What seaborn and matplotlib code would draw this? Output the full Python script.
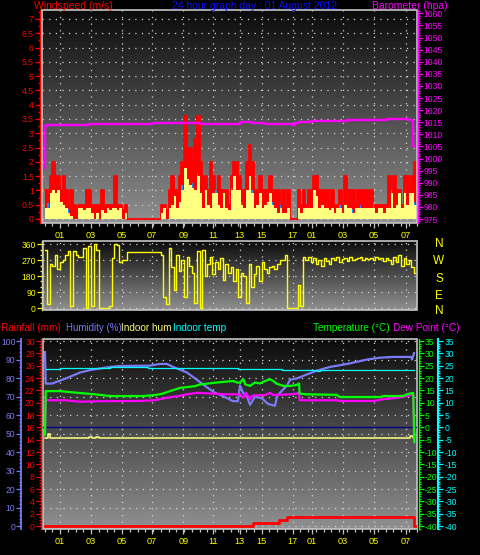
import numpy as np
import pandas as pd
import matplotlib
matplotlib.use("Agg")
import matplotlib.pyplot as plt
import seaborn as sns
from matplotlib.colors import LinearSegmentedColormap
from matplotlib.patches import Rectangle
from matplotlib.ticker import MultipleLocator, FixedLocator, FuncFormatter

# ---------------- data ----------------
x_tick_pos = [1.0, 3.0, 5.0, 6.95, 8.95, 10.9, 12.6, 14.0, 16.0, 17.25, 19.25, 21.25, 23.3]
x_tick_lab = ["01", "03", "05", "07", "09", "11", "13", "15", "17", "01", "03", "05", "07"]

# wind, one sample every 10 minutes (m/s)
wind_gust = [1.0, 1.0, 1.5, 2.0, 1.5, 1.5, 1.0, 1.5, 1.0, 0.5,
             1.0, 0.5, 0.3, 0.5, 0.5, 0.5, 1.0, 1.0, 0.5, 0.5,
             0.5, 0.5, 1.0, 0.5, 0.5, 0.5, 0.5, 1.5, 0.5, 0.5,
             0.3, 0.5, 0.0, 0.0, 0.0, 0.0, 0.0, 0.0, 0.0, 0.0,
             0.0, 0.0, 0.0, 0.0, 0.0, 0.5, 0.5, 0.3, 1.0, 1.5,
             1.0, 1.0, 1.5, 2.0, 3.6, 2.5, 2.5, 2.0, 2.8, 3.6,
             2.0, 1.5, 1.5, 1.0, 2.0, 1.5, 1.0, 1.5, 1.0, 1.0,
             1.0, 0.5, 1.5, 2.0, 2.0, 1.5, 1.0, 1.0, 2.0, 2.6,
             2.0, 1.0, 1.0, 1.5, 1.0, 1.0, 1.0, 1.5, 1.0, 1.0,
             1.0, 0.5, 1.0, 0.5, 1.0, 0.0, 0.0, 0.0, 1.0, 0.5,
             1.0, 0.5, 1.0, 1.0, 1.5, 1.5, 1.0, 1.0, 1.0, 1.0,
             0.5, 1.0, 0.5, 0.5, 1.0, 0.5, 1.5, 1.0, 1.0, 1.0,
             0.5, 1.0, 1.0, 1.0, 1.0, 1.0, 1.0, 0.5, 0.5, 0.5,
             0.5, 0.5, 0.5, 1.5, 1.0, 1.5, 1.0, 1.0, 0.5, 1.5,
             1.5, 1.0, 1.5, 2.0]
wind_avg = [0.4, 0.4, 0.9, 1.0, 0.9, 1.0, 0.6, 0.5, 0.4, 0.2,
            0.1, 0.0, 0.0, 0.4, 0.4, 0.3, 0.4, 0.4, 0.2, 0.0,
            0.2, 0.0, 0.3, 0.2, 0.4, 0.3, 0.4, 0.4, 0.3, 0.4,
            0.0, 0.2, 0.0, 0.0, 0.0, 0.0, 0.0, 0.0, 0.0, 0.0,
            0.0, 0.0, 0.0, 0.0, 0.0, 0.2, 0.4, 0.0, 0.4, 0.5,
            0.8, 0.4, 0.6, 1.0, 1.8, 1.4, 1.2, 1.1, 1.0, 1.5,
            0.9, 0.4, 1.0, 0.5, 0.4, 0.9, 0.9, 0.5, 0.4, 0.9,
            0.4, 0.3, 1.0, 1.5, 1.0, 1.0, 0.5, 0.4, 1.0, 1.5,
            0.9, 0.4, 0.5, 0.9, 0.4, 0.5, 0.6, 0.9, 0.5, 0.4,
            0.2, 0.4, 0.2, 0.2, 0.4, 0.0, 0.0, 0.0, 0.4, 0.2,
            0.4, 0.4, 0.4, 0.4, 1.0, 0.8, 0.4, 0.5, 0.4, 0.4,
            0.3, 0.4, 0.2, 0.4, 0.4, 0.2, 0.5, 0.4, 0.4, 0.2,
            0.4, 0.4, 0.4, 0.4, 0.4, 0.4, 0.4, 0.4, 0.2, 0.4,
            0.4, 0.2, 0.4, 0.4, 0.9, 0.4, 0.5, 0.9, 0.4, 0.9,
            0.5, 0.9, 0.9, 0.5]
wind_blue_idx = [1, 9, 53, 57, 59, 66, 72, 76, 80, 88, 91, 114, 119, 122, 127, 134, 143]
wind_blue_val = [0.55, 0.35, 1.2, 1.25, 1.6, 1.0, 1.1, 0.6, 1.0, 0.6, 0.5, 0.5, 0.35, 0.5, 0.55, 1.0, 0.6]

wind_dir = [330, 20, 250, 240, 300, 220, 260, 270, 300, 320,
            10, 320, 300, 290, 290, 340, 0, 350, 10, 360,
            330, 0, 0, 0, 0, 10, 280, 360, 355, 260,
            270, 270, 318, 318, 318, 318, 318, 318, 318, 318,
            318, 318, 318, 318, 318, 300, 60, 20, 340, 230,
            100, 300, 210, 270, 60, 290, 240, 200, 30, 320,
            0, 330, 180, 250, 290, 190, 260, 220, 280, 160,
            250, 200, 230, 150, 220, 60, 200, 180, 30, 250,
            120, 190, 240, 150, 260, 220, 200, 230, 240, 220,
            250, 270, 270, 300, 0, 0, 0, 0, 130, 10,
            290, 270, 290, 260, 280, 250, 270, 240, 285, 265,
            250, 280, 270, 290, 260, 275, 280, 265, 290, 270,
            275, 280, 290, 270, 285, 275, 280, 270, 290, 275,
            280, 265, 285, 270, 250, 290, 260, 300, 240, 280,
            250, 270, 230, 200]

baro_h = [0.0, 0.03, 0.14, 2.9, 7.0, 10.0, 12.6, 13.15, 13.4, 14.2, 15.95, 16.16,
          16.4, 17.2, 19.5, 19.7, 22.1, 23.47, 23.8, 23.86]
baro_v = [996, 1013.5, 1014.0, 1014.2, 1014.5, 1014.2, 1015.0, 1015.3, 1014.7, 1014.4,
          1014.0, 1014.7, 1015.3, 1015.7, 1016.1, 1016.0, 1016.4, 1016.0, 1005, 1005]

hum_h = [0.03, 0.08, 0.48, 1.45, 2.29, 2.94, 4.23, 4.87, 6.8, 7.45,
         7.9, 8.29, 9.19, 9.84, 10.48, 11.0, 11.32, 12.16, 12.48, 12.61,
         12.81, 13.06, 13.26, 13.58, 14.03, 14.42, 14.87, 15.0, 15.19, 15.65,
         15.84, 16.35, 16.94, 17.58, 18.42, 19.52, 20.81, 21.65, 22.48, 23.65,
         23.71, 23.84]
hum_v = [94, 77, 77, 80, 83, 84.3, 86, 86.5, 86.7, 87.6,
         87.6, 86, 83, 79, 75, 72, 71, 67.5, 67.5, 76,
         72, 70, 65.5, 70, 69, 66, 65, 70, 72, 76,
         79, 80, 82, 84, 86, 87.6, 90, 91, 91.4, 91.4,
         90, 93.5]

temp_h = [0.03, 0.08, 1.0, 1.65, 3.26, 4.23, 6.35, 7.13, 7.58, 8.1,
          8.74, 9.7, 10.03, 11.0, 11.65, 12.16, 12.48, 12.61, 12.83, 12.94,
          13.26, 13.58, 13.9, 14.23, 14.55, 14.76, 14.98, 15.41, 15.84, 16.27,
          16.42, 16.46, 16.9, 18.85, 19.06, 21.65, 21.86, 23.15, 23.37, 23.79,
          23.86]
temp_v = [-3, 14.7, 14.7, 14.3, 13.4, 12.7, 12.7, 13.1, 13.6, 14.7,
          16.0, 16.7, 17.4, 18.1, 18.5, 18.8, 18.1, 18.2, 19.5, 17.5,
          16.8, 18.2, 17.8, 18.8, 19.5, 18.8, 17.7, 16.8, 16.8, 17.2,
          17.8, 13.7, 13.4, 13.2, 12.3, 12.3, 12.7, 12.7, 13.4, 14.0,
          -6]

dew_h = [0.03, 0.08, 1.32, 2.29, 3.58, 6.16, 7.13, 7.9, 8.74, 9.19,
         9.84, 10.87, 11.65, 12.48, 12.61, 12.83, 13.0, 13.26, 13.37, 13.58,
         14.23, 14.55, 14.76, 15.84, 16.27, 16.42, 16.46, 18.85, 19.06, 21.22,
         21.86, 22.72, 23.37, 23.79, 23.86]
dew_v = [-2.5, 11.0, 11.0, 10.4, 10.6, 10.7, 11.0, 12.0, 12.8, 13.4,
         14.0, 13.7, 13.4, 13.4, 13.4, 12.0, 14.0, 11.4, 12.7, 13.0,
         13.1, 14.0, 13.1, 13.4, 13.7, 14.2, 11.0, 11.0, 10.7, 10.7,
         11.4, 12.0, 12.7, 13.4, -6]

intemp_h = [0.08, 1.0, 4.23, 6.7, 12.5, 15.35, 17.6, 17.75, 23.84]
intemp_v = [23.6, 24.0, 24.3, 24.0, 23.6, 23.2, 22.8, 23.2, 23.2]

inhum_h = [0.05, 0.2, 0.35, 2.9, 3.05, 3.3, 3.5, 23.55, 23.75, 23.86]
inhum_v = [47.6, 49.5, 47.6, 48.3, 47.6, 48.3, 47.6, 48.8, 47.6, 47.6]

rain_h = [0.05, 13.47, 15.13, 15.62, 23.86, 23.9]
rain_v = [0.0, 0.5, 1.0, 1.5, 0.0, 0.0]

compass = ["N", "W", "S", "E", "N"]

# ---------------- style ----------------
plt.rcParams['font.family'] = ['Liberation Sans', 'DejaVu Sans']
W, H = 480, 555
fig = plt.figure(figsize=(W / 100, H / 100), dpi=100, facecolor='black')

RED, YEL, PALE, MAG = '#ff0000', '#ffff00', '#ffff80', '#ff00ff'
LAV, CYAN, GREEN, BLUE = '#7b7bf5', '#00ffff', '#00ff00', '#0a0aff'
FRAME = '#c4c4c4'
TS = 6.2
bg = LinearSegmentedColormap.from_list('bg', ['#909090', '#0b0b0b'])


def rect(l, t, r, b):
    return [l / W, 1 - b / H, (r - l) / W, (b - t) / H]


def xl(lpx, rpx):
    return ((lpx - 44.5) / 15.5, (rpx - 44.5) / 15.5)


def base(ax, labels=True):
    ax.set_facecolor('black')
    ax.imshow(np.linspace(0, 1, 256).reshape(-1, 1), extent=[0, 1, 0, 1],
              transform=ax.transAxes, cmap=bg, aspect='auto', origin='lower',
              zorder=0, interpolation='bilinear')
    for s in ax.spines.values():
        s.set_visible(False)
    ax.add_patch(Rectangle((0, 0), 1, 1, transform=ax.transAxes, fill=False,
                           ec=FRAME, lw=1.2, clip_on=False, zorder=8))
    ax.xaxis.set_major_locator(FixedLocator(x_tick_pos))
    ax.xaxis.set_minor_locator(MultipleLocator(0.5))
    ax.set_xticklabels(x_tick_lab if labels else [""] * len(x_tick_pos))
    ax.tick_params(axis='x', which='major', direction='out', length=3.3 if labels else 0,
                   width=0.9, color=FRAME, labelcolor=YEL, labelsize=TS + 0.4, pad=2.4,
                   labelbottom=labels)
    ax.tick_params(axis='x', which='minor', direction='out', length=1.8 if labels else 0,
                   width=0.9, color=FRAME)
    ax.grid(True, which='major', color='#d4d4d4', linestyle=(0, (1, 4.3)), linewidth=0.9)
    ax.set_xlabel('')
    ax.set_ylabel('')


def yaxis_style(ax, side, color, outward, major, minor, lw=1.0, fmt=None):
    for s in ax.spines.values():
        s.set_visible(False)
    sp = ax.spines[side]
    sp.set_visible(True)
    sp.set_color(color)
    sp.set_linewidth(lw)
    sp.set_position(('outward', outward))
    if side == 'left':
        ax.yaxis.tick_left()
    else:
        ax.yaxis.tick_right()
    if isinstance(major, list):
        ax.yaxis.set_major_locator(FixedLocator(major))
    else:
        ax.yaxis.set_major_locator(MultipleLocator(major))
    ax.yaxis.set_minor_locator(MultipleLocator(minor))
    ax.yaxis.set_major_formatter(FuncFormatter(fmt or (lambda v, p: f"{v:g}")))
    ax.tick_params(axis='y', which='major', direction='out', length=3.3, width=0.9,
                   colors=color, labelsize=TS, pad=1.0)
    ax.tick_params(axis='y', which='minor', direction='out', length=1.6, width=0.9,
                   colors=color)
    ax.set_ylabel('')


# ---------------- panel 1: wind speed + barometer ----------------
ax1 = fig.add_axes(rect(42, 10, 417, 223))
base(ax1, labels=True)
t_w = np.arange(len(wind_gust)) / 6.0
t_edge = np.append(t_w, 24.0)
ax1.fill_between(t_edge, np.append(wind_gust, wind_gust[-1]), step='post', color=RED, lw=0, zorder=2)
sns.lineplot(x=t_edge, y=np.append(wind_gust, wind_gust[-1]), ax=ax1, color=RED, lw=1.3,
             drawstyle='steps-post', estimator=None, sort=False, zorder=2.1)
ax1.bar(np.array(wind_blue_idx) / 6.0, wind_blue_val, width=1 / 10, align='edge',
        color='#1e90ff', lw=0, zorder=2.5)
ax1.fill_between(t_edge, np.append(wind_avg, wind_avg[-1]), step='post', color=PALE, lw=0, zorder=3)
ax1.set_xlim(*xl(42, 417))
ax1.set_ylim(-0.14, 7.315)
yaxis_style(ax1, 'left', RED, 1.6, 0.5, 0.25)

ax1b = ax1.twinx()
sns.lineplot(x=baro_h, y=baro_v, ax=ax1b, color=MAG, lw=1.7, drawstyle='steps-post',
             estimator=None, sort=False)
ax1b.set_xlim(*xl(42, 417))
ax1b.set_ylim(973.35, 1061.4)
yaxis_style(ax1b, 'right', MAG, 0.6, 5, 1)

# ---------------- panel 2: wind direction ----------------
ax2 = fig.add_axes(rect(43, 241, 417, 310))
base(ax2, labels=False)
sns.lineplot(x=t_edge, y=np.append(wind_dir, wind_dir[-1]), ax=ax2, color=YEL, lw=1.0,
             drawstyle='steps-post', estimator=None, sort=False, zorder=3)
ax2.set_xlim(*xl(43, 417))
ax2.set_ylim(-11.3, 378.7)
yaxis_style(ax2, 'left', YEL, 0.8, [0, 90, 180, 270, 360], 30)
for lab, ypx in zip(compass, [244.5, 261, 278.5, 296, 311]):
    fig.text(439 / W, 1 - ypx / H, lab, color=YEL, fontsize=8.5, ha='center', va='center')

# ---------------- panel 3: temperatures, humidity, rain ----------------
ax3 = fig.add_axes(rect(43, 339, 417, 529))
base(ax3, labels=True)
XL3 = xl(43, 417)

ax3r = ax3.twinx()  # rainfall
ax3t = ax3.twinx()  # temperature / dew point
ax3c = ax3.twinx()  # indoor temperature

sns.lineplot(x=inhum_h, y=inhum_v, ax=ax3, color=PALE, lw=1.1, drawstyle='steps-post',
             estimator=None, sort=False, zorder=3)
sns.lineplot(x=hum_h, y=hum_v, ax=ax3, color=LAV, lw=1.6, estimator=None, sort=False, zorder=4)
ax3.set_ylim(-1.6, 101.1)
ax3.set_xlim(*XL3)
yaxis_style(ax3, 'left', LAV, 15.5, 10, 2, lw=1.3)

sns.lineplot(x=rain_h, y=rain_v, ax=ax3r, color=RED, lw=2.0, drawstyle='steps-post',
             estimator=None, sort=False)
ax3r.set_ylim(-0.48, 30.33)
ax3r.set_xlim(*XL3)
yaxis_style(ax3r, 'left', RED, 1.6, 2, 0.5)

ax3t.axhline(0, color='#000080', lw=1.0)
sns.lineplot(x=dew_h, y=dew_v, ax=ax3t, color=MAG, lw=1.6, estimator=None, sort=False)
sns.lineplot(x=temp_h, y=temp_v, ax=ax3t, color=GREEN, lw=1.6, estimator=None, sort=False)
ax3t.set_ylim(-41.2, 35.83)
ax3t.set_xlim(*XL3)
yaxis_style(ax3t, 'right', GREEN, 1.4, 5, 1)

sns.lineplot(x=intemp_h, y=intemp_v, ax=ax3c, color=CYAN, lw=0.9, drawstyle='steps-post',
             estimator=None, sort=False)
ax3c.set_ylim(-41.2, 35.83)
ax3c.set_xlim(*XL3)
yaxis_style(ax3c, 'right', CYAN, 15.3, 5, 1, lw=1.5)

for a in (ax1b, ax3r, ax3t, ax3c):
    a.set_xlabel('')
    a.patch.set_visible(False)


# ---------------- header texts ----------------
def ftext(xpx, ypx, s, color, fs=7.5):
    fig.text(xpx / W, 1 - ypx / H, s, color=color, fontsize=fs, ha='left', va='baseline')


ftext(34, 9.3, "Windspeed (m/s)", RED)
ftext(172, 9.3, "24 hour graph day : 01 August 2012", BLUE)
ftext(372, 9.3, "Barometer (hpa)", MAG)
ftext(1, 331, "Rainfall (mm)", RED, 7.2)
ftext(66, 331, "Humidity (%)", LAV, 7.0)
ftext(121, 331, "Indoor hum", PALE, 7.2)
ftext(173, 331, "Indoor temp", CYAN, 7.2)
ftext(313, 331, "Temperature (°C)", GREEN, 7.2)
ftext(393, 331, "Dew Point (°C)", MAG, 7.2)

fig.savefig("out.png", dpi=100, facecolor='black')
